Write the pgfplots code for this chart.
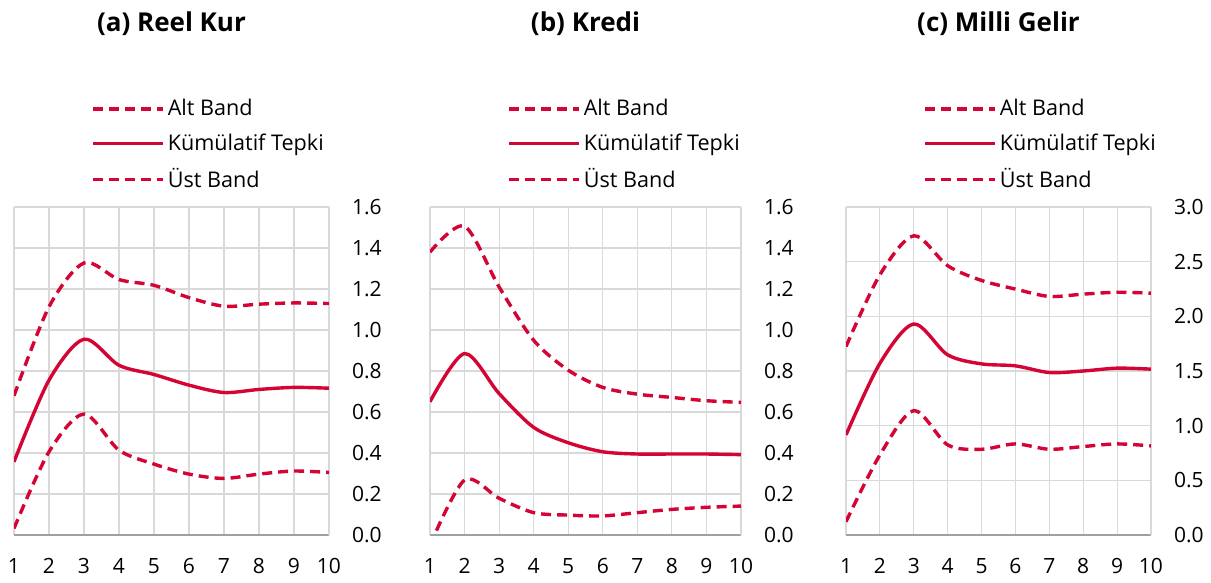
\documentclass[border=0pt]{standalone}
\usepackage{fontspec}
\setmainfont{Open Sans}
\usepackage{pgfplots}
\pgfplotsset{compat=1.18}
\definecolor{tcred}{RGB}{212,4,52}
\definecolor{gridgray}{RGB}{217,217,217}
\definecolor{axgray}{RGB}{160,160,160}
\pgfplotsset{
  panel/.style={
    scale only axis,
    height=164pt,
    xmin=1, xmax=10,
    ymin=0,
    xtick={1,...,10},
    grid=major,
    major grid style={draw=gridgray, line width=0.6pt},
    axis x line*=bottom,
    axis y line*=right,
    x axis line style={draw=axgray, line width=0.6pt, -},
    y axis line style={draw=gridgray, line width=0.6pt, -},
    major tick length=0pt,
    tick label style={font=\fontsize{10.5}{12}\selectfont, text=black},
    /pgf/number format/assume math mode=true,
    yticklabel style={/pgf/number format/.cd, fixed, fixed zerofill, precision=1, /tikz/.cd, anchor=west, xshift=8pt},
    xticklabel style={yshift=-8pt},
    title style={at={(0.5,1)}, anchor=center, yshift=85.5pt, font=\fontsize{13}{15}\bfseries},
    legend style={at={(0,1)}, anchor=north west, xshift=38.5pt, yshift=55.5pt, draw=none, fill=none,
      font=\fontsize{10.8}{13}\selectfont, row sep=4.5pt, inner sep=0pt,
      nodes={inner sep=1.5pt}},
    legend cell align=left,
    legend image code/.code={\draw[##1] (0pt,0pt) -- (35pt,0pt);},
    cycle list={{tcred}},
    every axis plot/.append style={smooth, tension=0.5, line width=1.7pt, color=tcred, no markers},
  },
  band/.style={tcred, line width=1.7pt, dash pattern=on 5pt off 3pt},
  mid/.style={tcred, line width=1.7pt, solid},
}
\begin{document}
\begin{tikzpicture}
\useasboundingbox (0,0) rectangle (605.5pt,291.5pt);
% (a)
\begin{axis}[panel, at={(7pt,24pt)}, anchor=south west, width=157.5pt, ymax=1.6,
  ytick={0,0.2,...,1.6}, title={(a) Reel Kur}]
\addplot[band] coordinates {(1,0.032) (2,0.406) (3,0.590) (4,0.414) (5,0.346) (6,0.297) (7,0.276) (8,0.297) (9,0.312) (10,0.305)};
\addlegendentry{Alt Band}
\addplot[mid] coordinates {(1,0.357) (2,0.755) (3,0.955) (4,0.828) (5,0.783) (6,0.731) (7,0.695) (8,0.710) (9,0.720) (10,0.716)};
\addlegendentry{Kümülatif Tepki}
\addplot[band] coordinates {(1,0.679) (2,1.113) (3,1.327) (4,1.246) (5,1.218) (6,1.158) (7,1.116) (8,1.126) (9,1.132) (10,1.129)};
\addlegendentry{Üst Band}
\end{axis}
% (b)
\begin{axis}[panel, at={(215pt,24pt)}, anchor=south west, width=155.5pt, ymax=1.6,
  ytick={0,0.2,...,1.6}, title={(b) Kredi}]
\addplot[band] coordinates {(1,-0.05) (2,0.268) (3,0.179) (4,0.109) (5,0.097) (6,0.093) (7,0.109) (8,0.125) (9,0.135) (10,0.141)};
\addlegendentry{Alt Band}
\addplot[mid] coordinates {(1,0.650) (2,0.885) (3,0.690) (4,0.525) (5,0.450) (6,0.406) (7,0.395) (8,0.395) (9,0.395) (10,0.392)};
\addlegendentry{Kümülatif Tepki}
\addplot[band] coordinates {(1,1.380) (2,1.506) (3,1.210) (4,0.950) (5,0.804) (6,0.720) (7,0.687) (8,0.671) (9,0.655) (10,0.647)};
\addlegendentry{Üst Band}
\end{axis}
% (c)
\begin{axis}[panel, at={(423pt,24pt)}, anchor=south west, width=152.5pt, ymax=3.0,
  ytick={0,0.5,...,3.0}, title={(c) Milli Gelir}]
\addplot[band] coordinates {(1,0.122) (2,0.732) (3,1.138) (4,0.824) (5,0.784) (6,0.833) (7,0.784) (8,0.809) (9,0.833) (10,0.815)};
\addlegendentry{Alt Band}
\addplot[mid] coordinates {(1,0.915) (2,1.570) (3,1.930) (4,1.648) (5,1.565) (6,1.547) (7,1.486) (8,1.500) (9,1.526) (10,1.517)};
\addlegendentry{Kümülatif Tepki}
\addplot[band] coordinates {(1,1.724) (2,2.380) (3,2.737) (4,2.463) (5,2.328) (6,2.249) (7,2.182) (8,2.203) (9,2.220) (10,2.212)};
\addlegendentry{Üst Band}
\end{axis}
\end{tikzpicture}
\end{document}
